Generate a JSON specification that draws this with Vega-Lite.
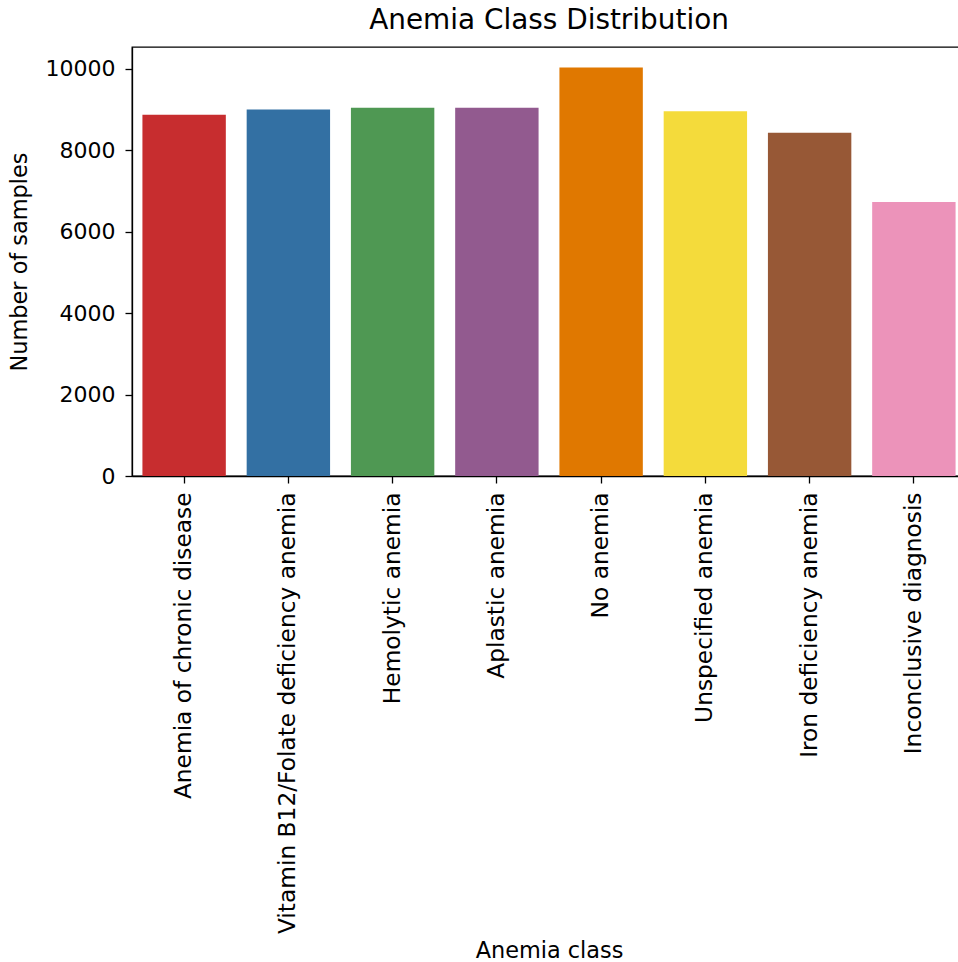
{
  "$schema": "https://vega.github.io/schema/vega-lite/v6.json",
  "autosize": {"type": "none"},
  "padding": {"left": 132, "top": 47, "right": 0, "bottom": 486},
  "width": 834,
  "height": 429,
  "background": "white",
  "title": {"text": "Anemia Class Distribution", "font": "DejaVu Sans", "fontSize": 27.9, "fontWeight": "normal", "color": "black", "offset": 12},
  "data": {"values": [
    {"cls": "Anemia of chronic disease", "n": 8869},
    {"cls": "Vitamin B12/Folate deficiency anemia", "n": 8999},
    {"cls": "Hemolytic anemia", "n": 9041},
    {"cls": "Aplastic anemia", "n": 9041},
    {"cls": "No anemia", "n": 10032},
    {"cls": "Unspecified anemia", "n": 8958},
    {"cls": "Iron deficiency anemia", "n": 8426},
    {"cls": "Inconclusive diagnosis", "n": 6730}
  ]},
  "mark": {"type": "bar"},
  "encoding": {
    "x": {"field": "cls", "type": "nominal", "sort": null, "title": "Anemia class",
      "scale": {"paddingInner": 0.2, "paddingOuter": 0.1},
      "axis": {"labelAngle": -90, "labelFont": "DejaVu Sans", "labelFontSize": 23.3, "labelColor": "black", "labelPadding": 9,
        "titleFont": "DejaVu Sans", "titleFontSize": 22.4, "titleFontWeight": "normal", "titleColor": "black",
        "titleBaseline": "alphabetic", "titleY": 481,
        "domainColor": "black", "domainWidth": 1.3, "tickColor": "black", "tickSize": 7, "tickWidth": 1.3, "labelLimit": 800}},
    "y": {"field": "n", "type": "quantitative", "title": "Number of samples",
      "scale": {"domain": [0, 10534], "nice": false},
      "axis": {"values": [0, 2000, 4000, 6000, 8000, 10000], "format": "d", "grid": false,
        "labelFont": "DejaVu Sans", "labelFontSize": 22, "labelColor": "black", "labelPadding": 10,
        "titleFont": "DejaVu Sans", "titleFontSize": 22.4, "titleFontWeight": "normal", "titleColor": "black", "titlePadding": 14,
        "domainColor": "black", "domainWidth": 1.3, "tickColor": "black", "tickSize": 7, "tickWidth": 1.3}},
    "color": {"field": "cls", "type": "nominal", "sort": null, "legend": null,
      "scale": {"range": ["#c72d2f", "#3370a3", "#4f9853", "#925a8f", "#e07800", "#f4db3b", "#975836", "#ec93ba"]}}
  },
  "config": {"view": {"stroke": "black", "strokeWidth": 1.3}}
}
